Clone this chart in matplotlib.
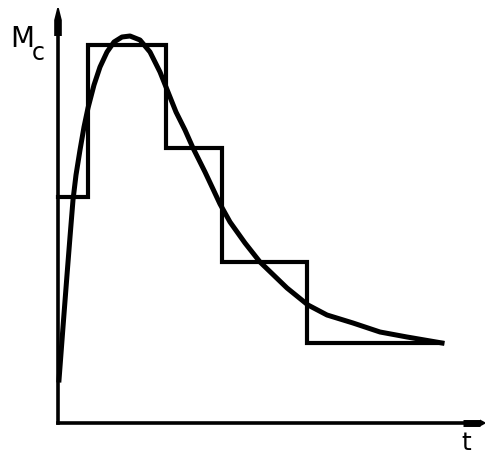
import matplotlib
matplotlib.use("Agg")
import matplotlib.pyplot as plt

# step approximation: edges in t and level of each step
step_t = [0.0, 3.0, 10.8, 16.4, 24.9, 38.4]
step_m = [22.6, 37.8, 27.5, 16.1, 8.0]

# smooth curve M_c(t)
curve_t = [0.1, 0.5, 0.9, 1.2, 1.5, 1.8, 2.2, 2.6, 3.0, 3.6, 4.2, 4.9, 5.6,
           6.4, 7.2, 8.2, 9.2, 10.2, 11.0, 11.8, 12.7, 13.5, 14.7, 15.5,
           16.2, 17.2, 18.7, 20.2, 22.9, 25.0, 26.9, 29.5, 32.2, 34.9, 38.4]
curve_m = [4.3, 9.6, 14.8, 18.6, 22.3, 24.8, 27.3, 29.6, 31.5, 33.8, 35.6,
           37.1, 38.1, 38.6, 38.7, 38.3, 37.1, 35.1, 33.1, 31.1, 29.3, 27.5,
           25.1, 23.4, 21.9, 20.1, 18.0, 16.1, 13.5, 11.8, 10.8, 10.0, 9.1,
           8.6, 8.0]

fig = plt.figure(figsize=(4.86, 4.57), dpi=100)
ax = fig.add_axes([0, 0, 1, 1])
ax.set_xlim(-5.8, 42.8)
ax.set_ylim(-3.4, 42.3)
ax.axis("off")

# step outline
xs = [step_t[0]]
ys = [step_m[0]]
for i, m in enumerate(step_m):
    xs += [step_t[i], step_t[i + 1]]
    ys += [m, m]
    if i + 1 < len(step_m):
        xs.append(step_t[i + 1])
        ys.append(step_m[i + 1])
ax.plot(xs, ys, color="black", lw=3.0, solid_joinstyle="miter")

ax.plot(curve_t, curve_m, color="black", lw=3.6,
        solid_capstyle="projecting", solid_joinstyle="round")

# axes: thin shaft, thick rod, pointed tip
ax.plot([0, 0], [0, 40.3], color="black", lw=2.6, solid_capstyle="projecting")
ax.plot([0, 40.5], [0, 0], color="black", lw=2.6, solid_capstyle="projecting")
ax.plot([0, 0], [38.7, 40.3], color="black", lw=5.5, solid_capstyle="butt")
ax.plot([40.5, 42.2], [0, 0], color="black", lw=5.0, solid_capstyle="butt")
ax.fill([-0.38, 0.38, 0.08, -0.08], [40.3, 40.3, 41.5, 41.5], color="black", lw=0)
ax.fill([42.2, 42.2, 42.7, 42.7], [-0.35, 0.35, 0.08, -0.08], color="black", lw=0)

ax.text(-4.8, 37.6, "M", fontsize=20, ha="left", va="baseline")
ax.text(-2.6, 36.3, "c", fontsize=17, ha="left", va="baseline")
ax.text(40.8, -3.2, "t", fontsize=18, ha="center", va="bottom")

fig.savefig("out.png", dpi=100)
